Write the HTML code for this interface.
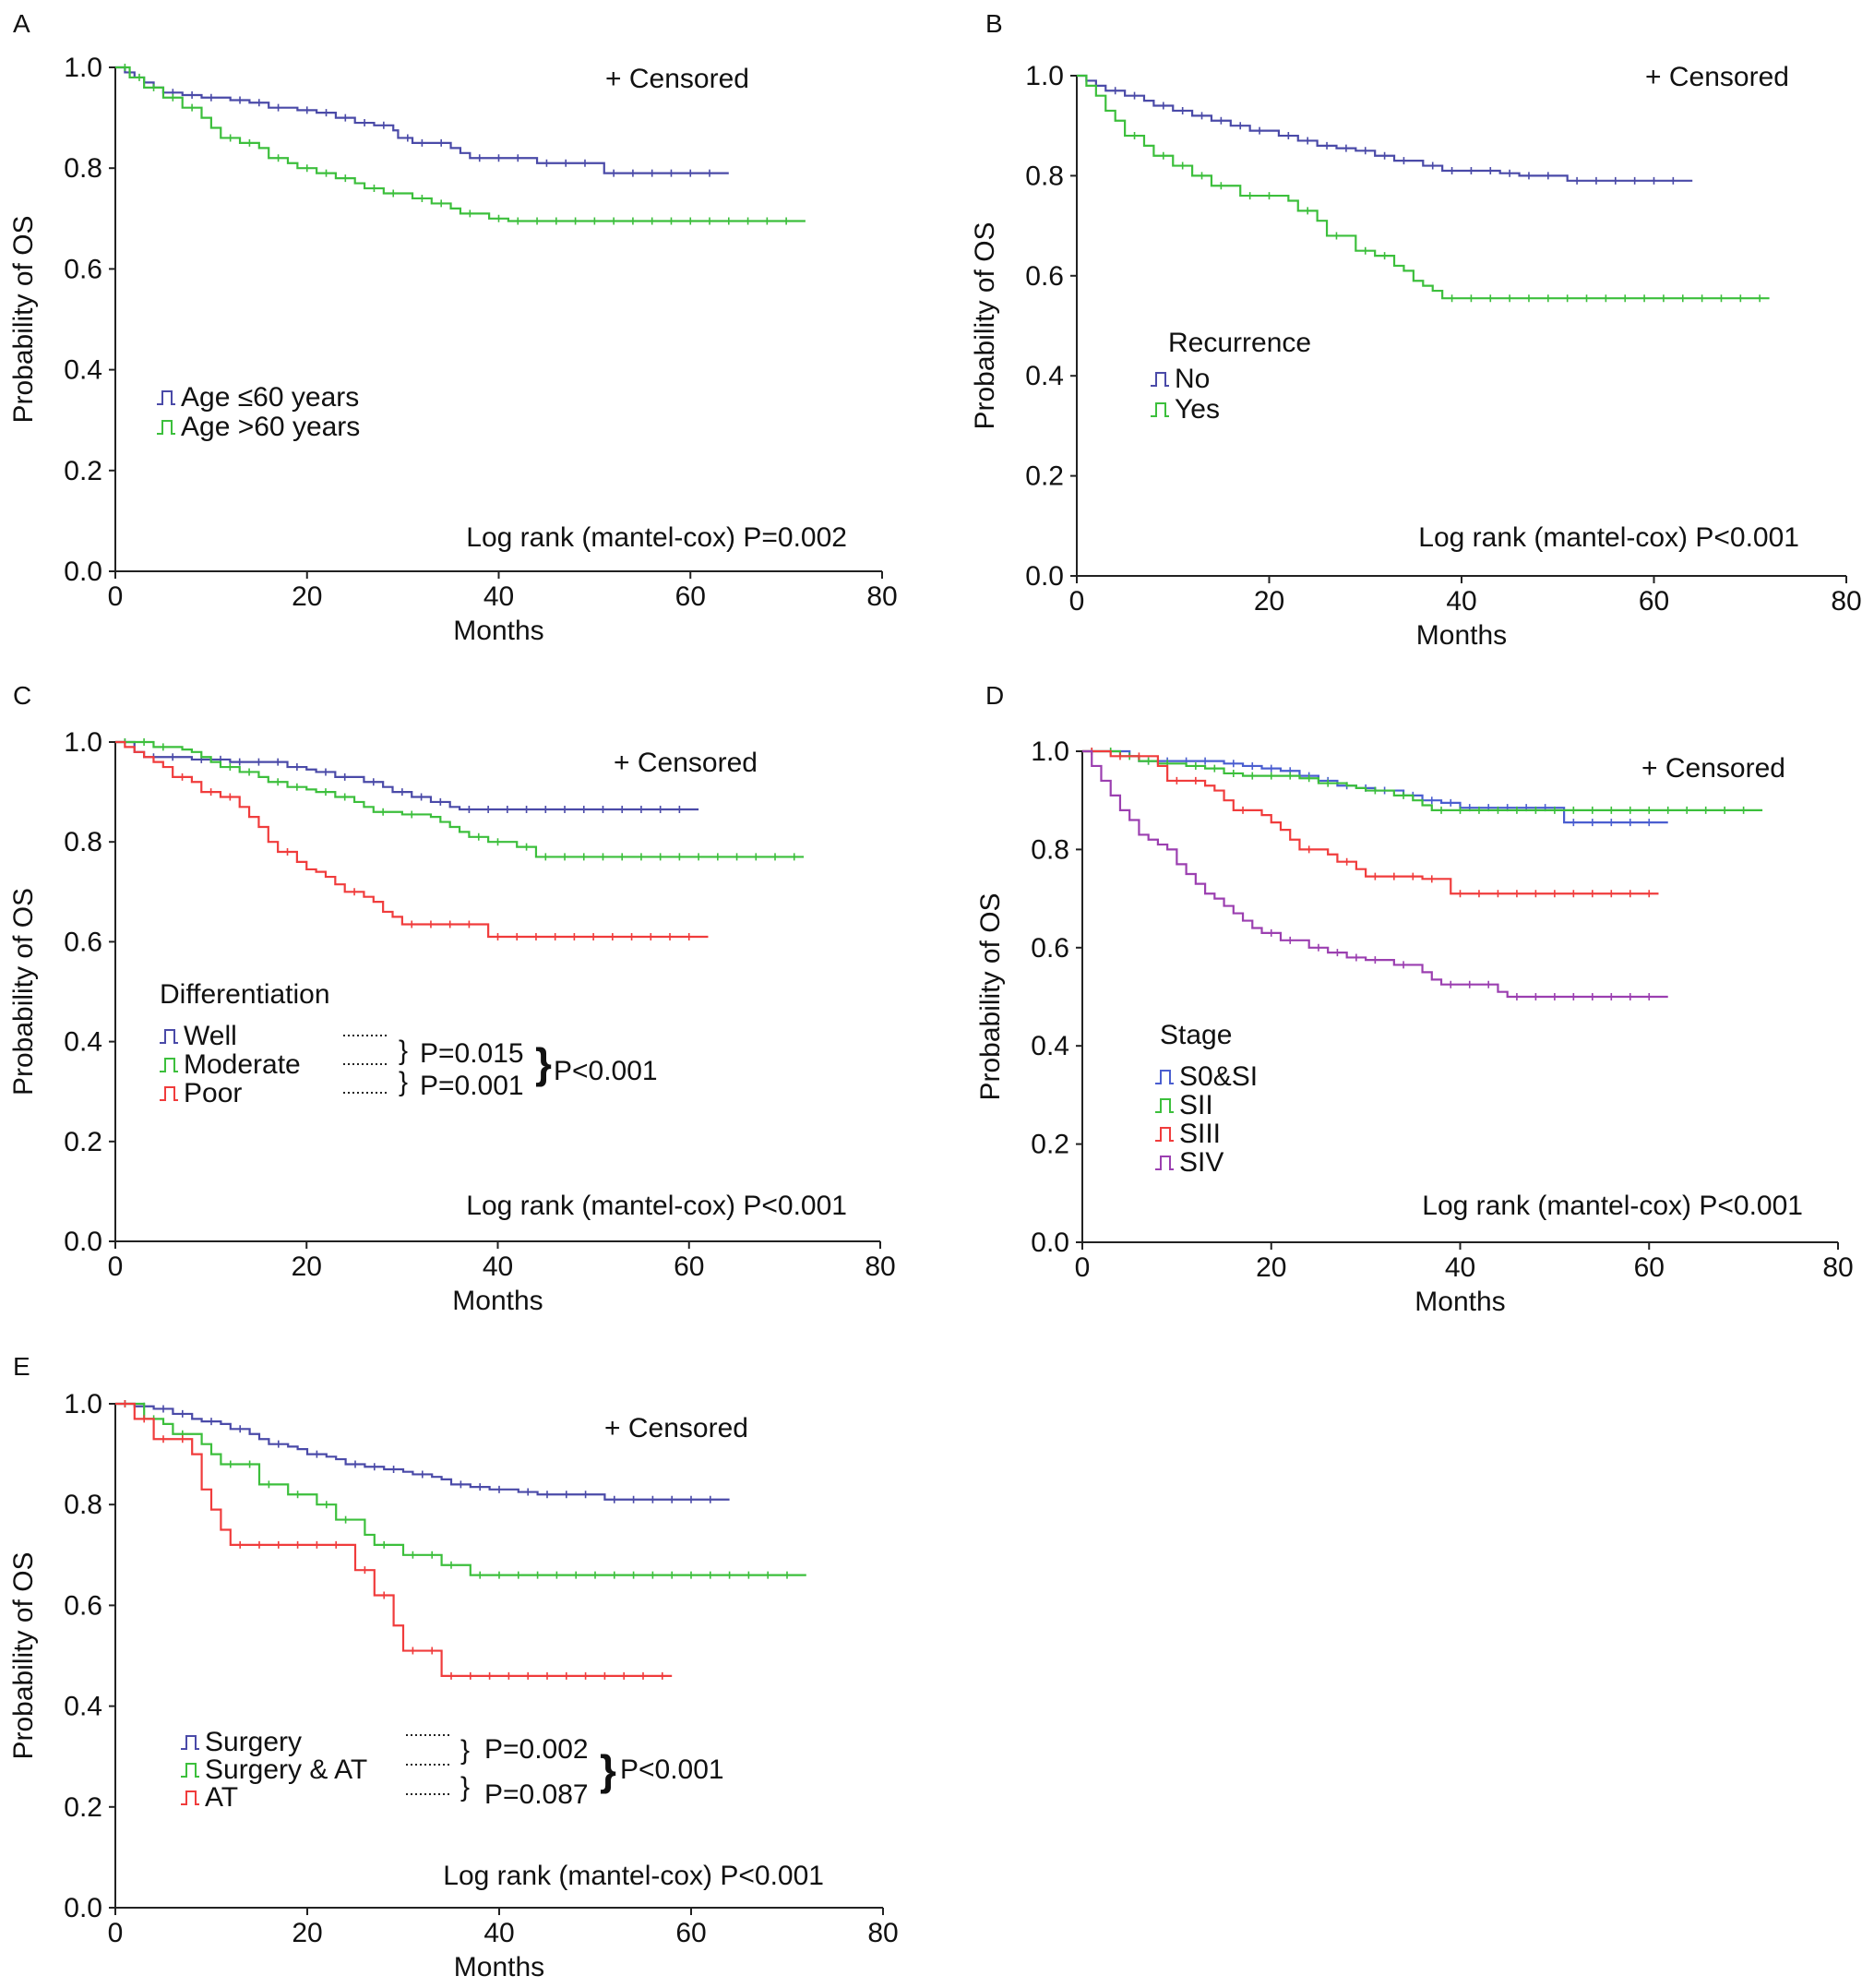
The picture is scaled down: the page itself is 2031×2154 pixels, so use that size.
<!DOCTYPE html>
<html><head><meta charset="utf-8"><style>
html,body{margin:0;padding:0;background:#fff;}
svg{display:block;font-family:"Liberation Sans",Arial,sans-serif;}
</style></head><body>
<svg id="fig" width="2031" height="2154" viewBox="0 0 2031 2154" xmlns="http://www.w3.org/2000/svg"></svg>
<script>
const xTicks=[0,20,40,60,80];
const yTicks=[0.0,0.2,0.4,0.6,0.8,1.0];
const yTickLabels=["0.0","0.2","0.4","0.6","0.8","1.0"];

const aYoungT=[0,1,2,3,4,5,7,9,12,14,16,19,21,23,25,27,29,29.5,31,35,36,37,44,51];
const aYoungS=[1,0.99,0.98,0.97,0.96,0.95,0.945,0.94,0.935,0.93,0.92,0.915,0.91,0.9,0.89,0.885,0.875,0.86,0.85,0.84,0.83,0.82,0.81,0.79];
const aYoungEnd=64;
const aOldT=[0,1.5,3,5,7,9,10,11,13,15,16,18,19,21,23,25,26,28,31,33,35,36,39,41];
const aOldS=[1,0.98,0.96,0.94,0.92,0.9,0.88,0.86,0.85,0.84,0.82,0.81,0.8,0.79,0.78,0.77,0.76,0.75,0.74,0.73,0.72,0.71,0.7,0.695];
const aOldEnd=72;

const bNoT=[0,1,2,3,5,7,8,10,12,14,16,18,21,23,25,27,29,31,33,36,38,44,46,51];
const bNoS=[1,0.99,0.98,0.97,0.96,0.95,0.94,0.93,0.92,0.91,0.9,0.89,0.88,0.87,0.86,0.855,0.85,0.84,0.83,0.82,0.81,0.805,0.8,0.79];
const bNoEnd=64;
const bYesT=[0,1,2,3,4,5,7,8,10,12,14,17,22,23,25,26,29,31,33,34,35,36,37,38];
const bYesS=[1,0.98,0.96,0.93,0.91,0.88,0.86,0.84,0.82,0.8,0.78,0.76,0.75,0.73,0.71,0.68,0.65,0.64,0.62,0.61,0.59,0.58,0.57,0.555];
const bYesEnd=72;

const cWellT=[0,2,3,8,12,18,20,21,23,26,28,29,31,33,35,36];
const cWellS=[1,0.98,0.97,0.965,0.96,0.95,0.945,0.94,0.93,0.92,0.91,0.9,0.89,0.88,0.87,0.865];
const cWellEnd=61;
const cModT=[0,4,7,8,9,10,11,13,15,16,18,20,21,23,25,26,27,30,33,34,35,36,37,39,42,44];
const cModS=[1,0.99,0.985,0.98,0.97,0.96,0.95,0.94,0.93,0.92,0.91,0.905,0.9,0.89,0.88,0.87,0.86,0.855,0.85,0.84,0.83,0.82,0.81,0.8,0.79,0.77];
const cModEnd=72;
const cPoorT=[0,1,2,3,4,5,6,8,9,11,13,14,15,16,17,19,20,21,22,23,24,26,27,28,29,30,39];
const cPoorS=[1,0.99,0.98,0.97,0.96,0.95,0.93,0.92,0.9,0.89,0.87,0.85,0.83,0.8,0.78,0.76,0.745,0.74,0.73,0.715,0.7,0.69,0.68,0.66,0.65,0.635,0.61];
const cPoorEnd=62;

const dS1T=[0,5,6,15,17,19,21,23,25,27,29,31,34,36,38,40,51];
const dS1S=[1,0.99,0.98,0.975,0.97,0.965,0.96,0.95,0.94,0.93,0.925,0.92,0.91,0.9,0.895,0.885,0.855];
const dS1End=62;
const dS2T=[0,4,6,8,11,13,15,17,23,25,28,29,30,33,35,36,37];
const dS2S=[1,0.99,0.98,0.975,0.97,0.965,0.955,0.95,0.945,0.935,0.93,0.925,0.92,0.91,0.9,0.89,0.88];
const dS2End=72;
const dS3T=[0,3,8,9,13,14,15,16,19,20,21,22,23,26,27,29,30,36,39];
const dS3S=[1,0.99,0.97,0.94,0.93,0.92,0.9,0.88,0.87,0.855,0.84,0.82,0.8,0.79,0.775,0.76,0.745,0.74,0.71];
const dS3End=61;
const dS4T=[0,1,2,3,4,5,6,7,8,9,10,11,12,13,14,15,16,17,18,19,21,24,26,28,30,33,36,37,38,44,45];
const dS4S=[1,0.97,0.94,0.91,0.88,0.86,0.83,0.82,0.81,0.8,0.77,0.75,0.73,0.71,0.7,0.685,0.67,0.655,0.64,0.63,0.615,0.6,0.59,0.58,0.575,0.565,0.55,0.535,0.525,0.51,0.5];
const dS4End=62;

const eSurT=[0,2,4,6,8,9,11,12,14,15,16,18,19,20,22,23,24,26,28,30,31,33,34,35,37,39,42,44,51];
const eSurS=[1,0.995,0.99,0.98,0.97,0.965,0.96,0.95,0.94,0.93,0.92,0.915,0.91,0.9,0.895,0.89,0.88,0.875,0.87,0.865,0.86,0.855,0.85,0.84,0.835,0.83,0.825,0.82,0.81];
const eSurEnd=64;
const eSatT=[0,3,5,6,9,10,11,15,18,21,23,26,27,30,34,37];
const eSatS=[1,0.97,0.96,0.94,0.92,0.9,0.88,0.84,0.82,0.8,0.77,0.74,0.72,0.7,0.68,0.66];
const eSatEnd=72;
const eAtT=[0,2,4,8,9,10,11,12,25,27,29,30,34];
const eAtS=[1,0.97,0.93,0.9,0.83,0.79,0.75,0.72,0.67,0.62,0.56,0.51,0.46];
const eAtEnd=58;

const censorEvery=2;

const NS="http://www.w3.org/2000/svg";
const svg=document.getElementById('fig');
function mk(tag,attrs,parent){const e=document.createElementNS(NS,tag);for(const k in attrs)e.setAttribute(k,attrs[k]);(parent||svg).appendChild(e);return e;}
function txt(s,x,y,size,anchor,parent,name){const t=mk('text',{x:x,y:y,'font-size':size,'text-anchor':anchor||'start',fill:'#111'},parent);t.textContent=s;


return t;}

const panels=[
 {id:'a',letter:'A',lx:14,ly:35,x0:125,x1:956,y0:619,y1:73,
  series:[{t:aYoungT,s:aYoungS,end:aYoungEnd,c:'#4a4aa8',n:'age-le-60'},{t:aOldT,s:aOldS,end:aOldEnd,c:'#3cbf3c',n:'age-gt-60'}],
  cens:[656,95],logx:918,logy:592,logtxt:'Log rank (mantel-cox) P=0.002'},
 {id:'b',letter:'B',lx:1068,ly:35,x0:1167,x1:2001,y0:624,y1:82,
  series:[{t:bNoT,s:bNoS,end:bNoEnd,c:'#4a4aa8',n:'recurrence-no'},{t:bYesT,s:bYesS,end:bYesEnd,c:'#3cbf3c',n:'recurrence-yes'}],
  cens:[1783,93],logx:1950,logy:592,logtxt:'Log rank (mantel-cox) P<0.001'},
 {id:'c',letter:'C',lx:14,ly:763,x0:125,x1:954,y0:1345,y1:804,
  series:[{t:cWellT,s:cWellS,end:cWellEnd,c:'#4a4aa8',n:'well'},{t:cModT,s:cModS,end:cModEnd,c:'#3cbf3c',n:'moderate'},{t:cPoorT,s:cPoorS,end:cPoorEnd,c:'#f03c3c',n:'poor'}],
  cens:[665,836],logx:918,logy:1316,logtxt:'Log rank (mantel-cox) P<0.001'},
 {id:'d',letter:'D',lx:1068,ly:763,x0:1173,x1:1992,y0:1346,y1:814,
  series:[{t:dS1T,s:dS1S,end:dS1End,c:'#4a5ed0',n:'s0-si'},{t:dS2T,s:dS2S,end:dS2End,c:'#3cbf3c',n:'sii'},{t:dS3T,s:dS3S,end:dS3End,c:'#f03c3c',n:'siii'},{t:dS4T,s:dS4S,end:dS4End,c:'#9b3fb0',n:'siv'}],
  cens:[1779,842],logx:1954,logy:1316,logtxt:'Log rank (mantel-cox) P<0.001'},
 {id:'e',letter:'E',lx:14,ly:1490,x0:125,x1:957,y0:2067,y1:1521,
  series:[{t:eSurT,s:eSurS,end:eSurEnd,c:'#4a4aa8',n:'surgery'},{t:eSatT,s:eSatS,end:eSatEnd,c:'#3cbf3c',n:'surgery-at'},{t:eAtT,s:eAtS,end:eAtEnd,c:'#f03c3c',n:'at'}],
  cens:[655,1557],logx:893,logy:2042,logtxt:'Log rank (mantel-cox) P<0.001'}
];

panels.forEach(p=>{
  const g=mk('g',{});
  
  
  const X=v=>p.x0+(p.x1-p.x0)*v/80;
  const Y=v=>p.y0+(p.y1-p.y0)*v;
  txt(p.letter,p.lx,p.ly,28,'start',g,'panel-letter');
  const ax=mk('path',{d:`M${p.x0},${p.y1} V${p.y0} H${p.x1}`,stroke:'#222','stroke-width':2,fill:'none'},g);
  
  
  xTicks.forEach(v=>{mk('line',{x1:X(v),x2:X(v),y1:p.y0,y2:p.y0+8,stroke:'#222','stroke-width':2},g);
    txt(String(v),X(v),p.y0+37,30,'middle',g,'x-tick-label');});
  yTicks.forEach((v,i)=>{mk('line',{x1:p.x0-7,x2:p.x0,y1:Y(v),y2:Y(v),stroke:'#222','stroke-width':2},g);
    txt(yTickLabels[i],p.x0-14,Y(v)+10,30,'end',g,'y-tick-label');});
  txt('Months',X(40),p.y0+74,30,'middle',g,'x-axis-title');
  const yt=txt('Probability of OS',0,0,30,'middle',g,'y-axis-title');
  yt.setAttribute('transform',`translate(${p.x0-90},${(p.y0+p.y1)/2}) rotate(-90)`);
  txt('+ Censored',p.cens[0],p.cens[1],30,'start',g,'censored-legend');
  txt(p.logtxt,p.logx,p.logy,30,'end',g,'log-rank-text');
  p.series.forEach(s=>{
    let d=`M${X(s.t[0])},${Y(s.s[0])}`;
    for(let i=1;i<s.t.length;i++){d+=` H${X(s.t[i])} V${Y(s.s[i])}`;}
    d+=` H${X(s.end)}`;
    const path=mk('path',{d:d,stroke:s.c,'stroke-width':2.2,fill:'none'},g);
    
    
    let ct='';
    for(let i=0;i<s.t.length;i++){
      const a=s.t[i], b=(i+1<s.t.length)?s.t[i+1]:s.end;
      for(let m=a+1;m<b;m+=censorEvery){ct+=`M${X(m)},${Y(s.s[i])-4} v8 `;}
    }
    if(ct){const cp=mk('path',{d:ct,stroke:s.c,'stroke-width':1.6,fill:'none'},g);
      
      }
  });
});

function legItem(x,y,color,label,name){
  const g=mk('g',{});
  
  
  mk('path',{d:`M${x},${y} h6 v-14 h10 v14 h4`,stroke:color,'stroke-width':2,fill:'none'},g);
  txt(label,x+26,y+2,30,'start',g,name+'-label');
}
legItem(170,438,'#4a4aa8','Age ≤60 years','legend-age-le-60');
legItem(170,470,'#3cbf3c','Age >60 years','legend-age-gt-60');
txt('Recurrence',1266,381,30,'start',null,'legend-title-recurrence');
legItem(1247,418,'#4a4aa8','No','legend-no');
legItem(1247,451,'#3cbf3c','Yes','legend-yes');
txt('Differentiation',173,1087,30,'start',null,'legend-title-differentiation');
legItem(173,1130,'#4a4aa8','Well','legend-well');
legItem(173,1161,'#3cbf3c','Moderate','legend-moderate');
legItem(173,1192,'#f03c3c','Poor','legend-poor');
txt('Stage',1257,1131,30,'start',null,'legend-title-stage');
legItem(1252,1174,'#4a5ed0','S0&SI','legend-s0-si');
legItem(1252,1205,'#3cbf3c','SII','legend-sii');
legItem(1252,1236,'#f03c3c','SIII','legend-siii');
legItem(1252,1267,'#9b3fb0','SIV','legend-siv');
legItem(196,1895,'#4a4aa8','Surgery','legend-surgery');
legItem(196,1925,'#3cbf3c','Surgery & AT','legend-surgery-at');
legItem(196,1955,'#f03c3c','AT','legend-at');

function dots(x,y){const l=mk('line',{x1:x,x2:x+48,y1:y,y2:y,stroke:'#222','stroke-width':2,'stroke-dasharray':'2,3'});
  
  }
[1122,1153,1184].forEach(y=>dots(372,y));
txt('}',432,1148,30,'start',null,'brace');txt('P=0.015',455,1151,30,'start',null,'p-well-moderate');
txt('}',432,1182,30,'start',null,'brace');txt('P=0.001',455,1186,30,'start',null,'p-moderate-poor');
txt('}',580,1168,46,'start',null,'brace-big').setAttribute('font-weight','bold');
txt('P<0.001',600,1170,30,'start',null,'p-overall-c');
[1880,1912,1944].forEach(y=>dots(440,y));
txt('}',499,1906,30,'start',null,'brace');txt('P=0.002',525,1905,30,'start',null,'p-surgery-sat');
txt('}',499,1946,30,'start',null,'brace');txt('P=0.087',525,1954,30,'start',null,'p-sat-at');
txt('}',650,1934,46,'start',null,'brace-big').setAttribute('font-weight','bold');
txt('P<0.001',672,1927,30,'start',null,'p-overall-e');
</script>
</body></html>
